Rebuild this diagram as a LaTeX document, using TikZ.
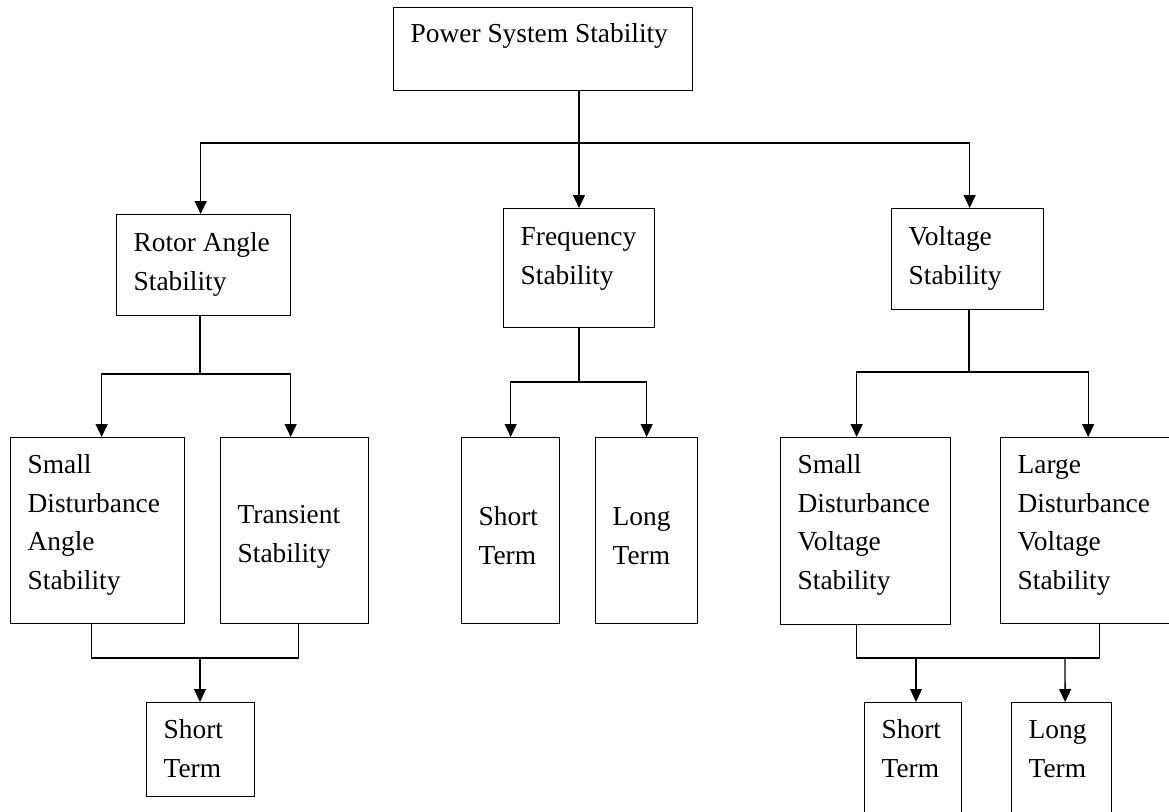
\documentclass[tikz,border=0pt]{standalone}
\usepackage{fontspec}
\setmainfont{Liberation Serif}
\usetikzlibrary{arrows.meta}
\hyphenpenalty=10000
\exhyphenpenalty=10000

\tikzset{
  blk/.style={draw, line width=1.3pt, anchor=north west, inner xsep=17pt, inner ysep=0pt,
    align=flush left, font=\fontsize{27.4}{38.5}\selectfont},
  link/.style={line width=1.3pt},
  arr/.style={line width=1.3pt, -{Triangle[width=12pt,length=13pt]}}
}

\begin{document}
\begin{tikzpicture}[x=1pt, y=-1pt]
\useasboundingbox (0,0) rectangle (1169,811);
\clip (0,0) rectangle (1169,811);
% top level
\node[blk, text width=265, text height=35, text depth=48] (pss) at (393,7) {Power System Stability};
% second level
\node[blk, text width=140, text height=37, text depth=64] (rotor) at (116,214) {Rotor Angle\\Stability};
\node[blk, text width=117, text height=37, text depth=82] (freq) at (503,208) {Frequency\\Stability};
\node[blk, text width=118, text height=37, text depth=64] (volt) at (891,208) {Voltage\\Stability};
% third level
\node[blk, text width=140, text height=36, text depth=150] (sda) at (10,437) {Small\\Disturbance\\Angle\\Stability};
\node[blk, text width=114, text height=86, text depth=100] (trans) at (220,437) {Transient\\Stability};
\node[blk, text width=64, text height=88, text depth=98] (fst) at (461,437) {Short\\Term};
\node[blk, text width=68, text height=88, text depth=98] (flt) at (595,437) {Long\\Term};
\node[blk, text width=136, text height=36, text depth=151] (sdv) at (780,437) {Small\\Disturbance\\Voltage\\Stability};
\node[blk, text width=141, text height=36, text depth=150] (ldv) at (1000,437) {Large\\Disturbance\\Voltage\\Stability};
% fourth level
\node[blk, text width=74, text height=36, text depth=58] (rst) at (146,702) {Short\\Term};
\node[blk, text width=63, text height=36, text depth=94] (vst) at (864,702) {Short\\Term};
\node[blk, text width=66, text height=36, text depth=94] (vlt) at (1011,702) {Long\\Term};

% junctions
\coordinate (top) at (579,143);
\coordinate (rj) at (200,374);
\coordinate (fj) at (579,382);
\coordinate (vj) at (969,372);
\coordinate (lj) at (200,658);
\coordinate (vb1) at (916,658);
\coordinate (vb2) at (1065,658);

% connectors
\draw[link] (pss.south -| top) -- (top);
\draw[arr] (top) -| ([xshift=-3pt]rotor.north);
\draw[arr] (top) -- (freq.north -| top);
\draw[arr] (top) -| ([xshift=2pt]volt.north);

\draw[link] (rotor.south -| rj) -- (rj);
\draw[arr] (rj) -| ([xshift=4pt]sda.north);
\draw[arr] (rj) -| ([xshift=-4pt]trans.north);

\draw[link] (freq.south -| fj) -- (fj);
\draw[arr] (fj) -| (fst.north);
\draw[arr] (fj) -| (flt.north);

\draw[link] (volt.south -| vj) -- (vj);
\draw[arr] (vj) -| ([xshift=-9pt]sdv.north);
\draw[arr] (vj) -| (ldv.north);

\draw[link] ([xshift=-6pt]sda.south) |- (lj) -| ([xshift=4pt]trans.south);
\draw[arr] (lj) -- (rst.north -| lj);

\draw[link] ([xshift=-9pt]sdv.south) |- (vb1) -- (vb2) -| ([xshift=11pt]ldv.south);
\draw[arr] (vb1) -- (vst.north -| vb1);
\draw[arr] (vb2) -- ([xshift=3.5pt]vlt.north);
\end{tikzpicture}
\end{document}
